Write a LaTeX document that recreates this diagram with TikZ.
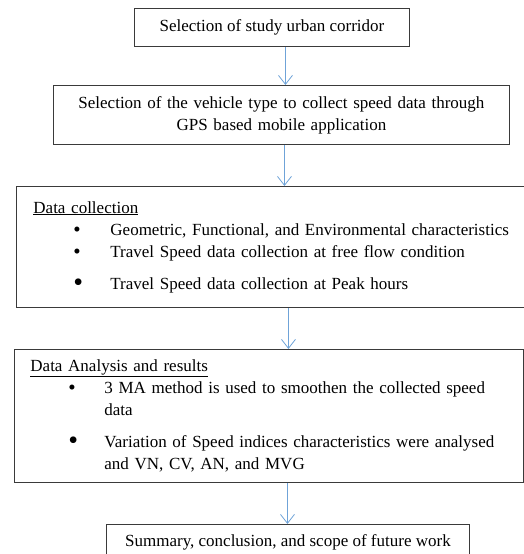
\documentclass[tikz,border=0pt]{standalone}
\usepackage{fontspec}
\setmainfont{Liberation Serif}
\usepackage{tikz}
\usetikzlibrary{arrows.meta}
\definecolor{flowcol}{HTML}{6FA3D8}
\definecolor{framecol}{HTML}{3A3A3A}
\tikzset{stepbox/.style={rectangle, draw=framecol, line width=0.9pt, anchor=north west, inner sep=0pt, font=\fontsize{17}{22}\selectfont}}
\tikzset{listbox/.style={stepbox, inner xsep=16pt, text width=#1}}
\tikzset{flow/.style={draw=flowcol, line width=0.8pt, -{Straight Barb[length=9pt,width=14pt,line width=0.8pt]}}}
\newcommand{\smallbul}{\raisebox{-1pt}{\fontsize{21}{21}\selectfont\textbullet}}
\newcommand{\bigbul}{\raisebox{-2pt}{\fontsize{28}{28}\selectfont\textbullet}}
\newcommand{\listitem}[3]{\par\leftskip=#1\relax\noindent\llap{\makebox[#2][l]{#3}}\ignorespaces}

\begin{document}
\begin{tikzpicture}[x=1pt, y={(0pt,-1pt)}]
\useasboundingbox (0,0) rectangle (524,554);
\node[stepbox, minimum width=275pt, minimum height=38pt] (corridor) at (134,8) {Selection of study urban corridor};
  \node[stepbox, minimum width=456pt, minimum height=59pt, text width=440pt, align=center] (vehicle) at (53,85)
    {Selection of the vehicle type to collect speed data through\\ GPS based mobile application};
    \node[listbox=478pt, inner xsep=17pt, minimum height=121pt] (collect) at (16,186) {\hyphenpenalty=10000
      \underline{Data collection}
      \listitem{77pt}{37pt}{\smallbul}Geometric, Functional, and Environmental characteristics
      \listitem{77pt}{37pt}{\smallbul}Travel Speed data collection at free flow condition
      \par\vspace{10pt}
      \listitem{77pt}{37pt}{\bigbul}Travel Speed data collection at Peak hours\par};
      \node[listbox=477pt, minimum height=133pt] (analysis) at (14,349) {\hyphenpenalty=10000
        \underline{Data Analysis and results}
        \listitem{74pt}{36pt}{\smallbul}3 MA method is used to smoothen the collected speed data
        \par\vspace{10pt}
        \listitem{74pt}{36pt}{\bigbul}Variation of Speed indices characteristics were analysed and VN, CV, AN, and MVG\par};
        \node[stepbox, minimum width=363pt, minimum height=36pt] (summary) at (106,524) {Summary, conclusion, and scope of future work};
\draw[flow] ([xshift=13.5pt]corridor.south) -- ([xshift=13.5pt]corridor.south |- vehicle.north);
\draw[flow] ([xshift=3pt]vehicle.south) -- ([xshift=3pt]vehicle.south |- collect.north);
\draw[flow] ([xshift=16pt]collect.south) -- ([xshift=16pt]collect.south |- analysis.north);
\draw[flow] ([xshift=18.5pt]analysis.south) -- ([xshift=18.5pt]analysis.south |- summary.north);
\end{tikzpicture}
\end{document}
